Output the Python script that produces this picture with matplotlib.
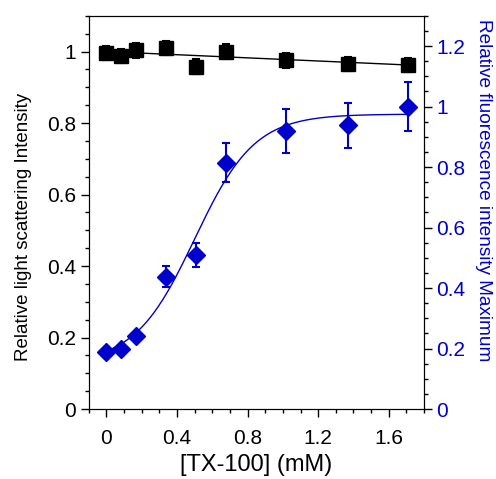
import numpy as np
import matplotlib
matplotlib.use('Agg')
import matplotlib.pyplot as plt
from matplotlib.ticker import MultipleLocator, FuncFormatter

plt.rcParams['font.family'] = ['Liberation Sans', 'DejaVu Sans']

# TX-100 concentration (mM)
conc = [0, 0.085, 0.17, 0.34, 0.51, 0.68, 1.02, 1.37, 1.71]

# relative light scattering (left axis)
scatter = [0.995, 0.988, 1.003, 1.01, 0.958, 1.0, 0.975, 0.966, 0.963]
scatter_err = [0.02, 0.02, 0.02, 0.02, 0.02, 0.02, 0.02, 0.02, 0.02]

# relative fluorescence intensity maximum (right axis)
fluor = [0.189, 0.20, 0.24, 0.438, 0.51, 0.815, 0.92, 0.938, 1.0]
fluor_err = [0.01, 0.01, 0.01, 0.034, 0.04, 0.065, 0.073, 0.075, 0.08]

# fit parameters
lin_a, lin_b = 1.0, -0.022
bz_a1, bz_a2, bz_x0, bz_dx = 0.15, 0.975, 0.5, 0.17

blue = '#0000CC'

fig = plt.figure(figsize=(4.96, 4.79), dpi=100)
ax = fig.add_axes([0.179, 0.146, 0.676, 0.821])
ax2 = ax.twinx()

xfit = np.linspace(0, max(conc), 200)

# light scattering
ax.plot(xfit, lin_a + lin_b * xfit, color='black', lw=1)
ax.errorbar(conc, scatter, yerr=scatter_err, fmt='s', color='black',
            ms=9.5, capsize=3, elinewidth=1.5, capthick=1.5)

# fluorescence
ax2.plot(xfit, bz_a1 + (bz_a2 - bz_a1) / (1 + np.exp(-(xfit - bz_x0) / bz_dx)),
         color=blue, lw=1)
ax2.errorbar(conc, fluor, yerr=fluor_err, fmt='D', color=blue,
             ms=9, capsize=3, elinewidth=1.5, capthick=1.5)

ax.set_xlim(-0.1, 1.8)
ax.set_ylim(0, 1.1)
ax2.set_ylim(0, 1.3)

ax.xaxis.set_major_locator(MultipleLocator(0.4))
ax.xaxis.set_minor_locator(MultipleLocator(0.1))
ax.yaxis.set_major_locator(MultipleLocator(0.2))
ax.yaxis.set_minor_locator(MultipleLocator(0.05))
ax2.yaxis.set_major_locator(MultipleLocator(0.2))
ax2.yaxis.set_minor_locator(MultipleLocator(0.05))

fmt = FuncFormatter(lambda v, p: '%g' % round(v, 2))
ax.xaxis.set_major_formatter(fmt)
ax.yaxis.set_major_formatter(fmt)
ax2.yaxis.set_major_formatter(fmt)

for a in (ax, ax2):
    a.tick_params(which='major', direction='out', length=6, width=1, labelsize=15)
    a.tick_params(which='minor', direction='out', length=3, width=1)
ax.tick_params(axis='x', pad=8)
ax.tick_params(axis='y', pad=3)
ax2.tick_params(axis='y', colors='black', labelcolor=blue, pad=3)

ax.set_xlabel('[TX-100] (mM)', fontsize=17)
ax.xaxis.set_label_coords(0.5, -0.115)
ax.set_ylabel('Relative light scattering Intensity', fontsize=13.5, va='center')
ax.yaxis.set_label_coords(-0.195, 0.462)
ax2.set_ylabel('Relative fluorescence intensity Maximum', fontsize=13.7,
               color=blue, rotation=270, va='center')
ax2.yaxis.set_label_coords(1.178, 0.556)

fig.savefig('out.png', dpi=100)
